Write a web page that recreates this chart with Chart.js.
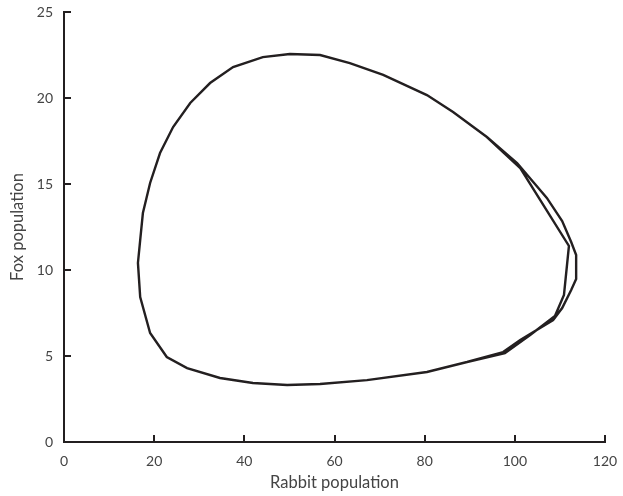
<!DOCTYPE html>
<html>
<head>
<meta charset="utf-8">
<script src="https://cdn.jsdelivr.net/npm/chart.js@4/dist/chart.umd.min.js"></script>
<style>
  html, body { margin: 0; padding: 0; background: #fff; }
  #wrap { width: 623px; height: 496px; }
</style>
</head>
<body>
<div id="wrap"><canvas id="c"></canvas></div>
<script>
// values, two passes round the cycle
const rabbits = [
  49.5, 56.8, 67.2, 80.5, 89.4, 97.4, 101.2, 108.5, 110.5, 112.5, 113.6, 113.6, 112.5, 110.5, 107.1, 100.5,
  93.8, 86.3, 80.5, 70.8, 63.4, 56.8, 50.1, 44.1, 37.5, 32.4, 28.0, 24.2, 21.3, 19.1, 17.5, 16.9,
  16.4, 16.9, 19.1, 22.8, 27.3, 34.6, 41.9, 49.5,
  56.8, 67.2, 80.5, 89.4, 97.8, 103.4, 108.9, 110.9, 112.0, 101.2,
  93.8, 86.3, 80.5, 70.8, 63.4, 56.8, 50.1, 44.1, 37.5, 32.4, 28.0, 24.2, 21.3, 19.1, 17.5, 16.9,
  16.4, 16.9, 19.1, 22.8, 27.3, 34.6, 41.9, 49.5
];
const foxes = [
  3.31, 3.37, 3.60, 4.07, 4.65, 5.23, 5.93, 7.09, 7.79, 8.84, 9.48, 10.87, 11.63, 12.85, 14.19, 16.22,
  17.73, 19.19, 20.17, 21.34, 22.03, 22.50, 22.56, 22.38, 21.80, 20.87, 19.71, 18.31, 16.80, 15.06, 13.31, 11.74,
  10.41, 8.43, 6.34, 4.94, 4.30, 3.72, 3.43, 3.31,
  3.37, 3.60, 4.07, 4.65, 5.17, 6.22, 7.33, 8.55, 11.40, 15.93,
  17.73, 19.19, 20.17, 21.34, 22.03, 22.50, 22.56, 22.38, 21.80, 20.87, 19.71, 18.31, 16.80, 15.06, 13.31, 11.74,
  10.41, 8.43, 6.34, 4.94, 4.30, 3.72, 3.43, 3.31
];
const xTicks = [0, 20, 40, 60, 80, 100, 120];
const yTicks = [0, 5, 10, 15, 20, 25];

const ink = '#231f20';
const textCol = '#444444';

const points = rabbits.map((r, i) => ({ x: r, y: foxes[i] }));

// ticks in this chart point into the plot, so draw them by hand from the scales
const innerTicks = {
  id: 'innerTicks',
  afterDraw(chart) {
    const ctx = chart.ctx;
    const xs = chart.scales.x, ys = chart.scales.y;
    ctx.save();
    ctx.strokeStyle = ink;
    ctx.lineWidth = 2;
    ctx.beginPath();
    xTicks.forEach(v => {
      const px = Math.round(xs.getPixelForValue(v));
      ctx.moveTo(px, xs.top);
      ctx.lineTo(px, xs.top - 7);
    });
    yTicks.forEach(v => {
      const py = Math.round(ys.getPixelForValue(v));
      ctx.moveTo(ys.right, py);
      ctx.lineTo(ys.right + 7, py);
    });
    ctx.stroke();
    ctx.restore();
  }
};

new Chart(document.getElementById('c'), {
  type: 'scatter',
  data: {
    datasets: [{
      data: points,
      showLine: true,
      borderColor: ink,
      borderWidth: 2.4,
      pointRadius: 0,
      tension: 0,
      fill: false
    }]
  },
  options: {
    responsive: true,
    maintainAspectRatio: false,
    animation: false,
    layout: { padding: { top: 12, right: 18, left: 0, bottom: 0 } },
    plugins: { legend: { display: false }, tooltip: { enabled: false } },
    scales: {
      x: {
        type: 'linear',
        min: 0, max: 120,
        afterBuildTicks(s) { s.ticks = xTicks.map(v => ({ value: v })); },
        afterFit(s) { s.height = 54; s.paddingLeft = 0; s.paddingRight = 0; },
        grid: { display: false, drawTicks: false },
        border: { display: true, color: ink, width: 2 },
        ticks: { color: textCol, padding: 11, font: { family: 'Lato', size: 14 } },
        title: {
          display: true, text: 'Rabbit population', color: textCol,
          font: { family: 'Lato', size: 16.5 }, padding: { top: 0, bottom: 3 }
        }
      },
      y: {
        type: 'linear',
        min: 0, max: 25,
        afterBuildTicks(s) { s.ticks = yTicks.map(v => ({ value: v })); },
        afterFit(s) { s.width = 64; s.paddingTop = 0; s.paddingBottom = 0; },
        grid: { display: false, drawTicks: false },
        border: { display: true, color: ink, width: 2 },
        ticks: { color: textCol, padding: 11, font: { family: 'Lato', size: 14 } },
        title: {
          display: true, text: 'Fox population', color: textCol,
          font: { family: 'Lato', size: 16.5 }, padding: { top: 8, bottom: 0 }
        }
      }
    }
  },
  plugins: [innerTicks]
});
</script>
</body>
</html>
